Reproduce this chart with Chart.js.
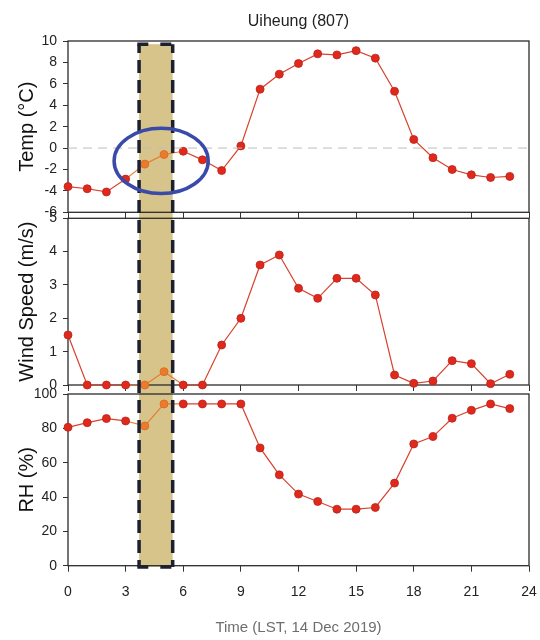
<!DOCTYPE html>
<html><head><meta charset="utf-8">
<script src="https://cdn.jsdelivr.net/npm/chart.js@4.4.1/dist/chart.umd.min.js"></script>
<style>
html,body{margin:0;padding:0;background:#fff;}
#wrap{position:relative;width:540px;height:640px;overflow:hidden;background:#fff;}
canvas{position:absolute;left:0;}
</style></head><body>
<div id="wrap">
<canvas id="cT" width="540" height="230" style="top:0px"></canvas>
<canvas id="cW" width="540" height="200" style="top:200px"></canvas>
<canvas id="cR" width="540" height="265" style="top:375px"></canvas>
</div>
<script>
// ---- data ----
const hours = [0,1,2,3,4,5,6,7,8,9,10,11,12,13,14,15,16,17,18,19,20,21,22,23];
const tempC = [-3.6,-3.8,-4.1,-2.9,-1.5,-0.6,-0.3,-1.1,-2.1,0.2,5.5,6.9,7.9,8.8,8.7,9.1,8.4,5.3,0.8,-0.9,-2.0,-2.5,-2.75,-2.65];
const windSpeed = [1.5,0,0,0,0,0.4,0,0,1.2,2.0,3.6,3.9,2.9,2.6,3.2,3.2,2.7,0.3,0.05,0.12,0.73,0.64,0.04,0.32];
const relHum = [80.6,83.3,85.7,84.3,81.4,94.2,94.2,94.2,94.2,94.2,68.6,52.9,41.7,37.4,32.9,32.9,33.9,48.1,70.9,75.2,85.9,90.5,94.2,91.5];
const xTickLabels = [0,3,6,9,12,15,18,21,24];
const tempTicks = [-6,-4,-2,0,2,4,6,8,10];
const windTicks = [0,1,2,3,4,5];
const rhTicks = [0,20,40,60,80,100];
const highlightHours = [4,5];
const shadeHours = [3.7,5.45];
const zeroLevel = 0;
const ellipseBounds = {h0:2.4, h1:7.3, t0:-4.25, t1:1.85};

// ---- styles ----
const RED = '#e0281c', RED_LINE = '#d8412d', ORANGE = '#ea7b2e';
const NARROW = "'Liberation Sans Narrow','Arial Narrow','Liberation Sans',Arial,sans-serif";
const SANS = "'Liberation Sans',Arial,sans-serif";
const TAN = '#d6c48b';

const shadePlugin = {
  id: 'shade',
  geom(chart, o) {
    const xs = chart.scales.x, ys = chart.scales.y;
    const xl = xs.getPixelForValue(shadeHours[0]), xr = xs.getPixelForValue(shadeHours[1]);
    let y0 = o.band[0] - o.offset, y1 = o.band[1] - o.offset;
    if (o.topValue !== undefined) y0 = ys.getPixelForValue(o.topValue);
    if (o.bottomValue !== undefined) y1 = ys.getPixelForValue(o.bottomValue);
    return {xl, xr, y0, y1};
  },
  beforeDraw(chart, args, o) {
    const g = this.geom(chart, o), ctx = chart.ctx;
    ctx.save();
    ctx.fillStyle = TAN;
    ctx.fillRect(g.xl, g.y0, g.xr - g.xl, g.y1 - g.y0);
    ctx.restore();
  },
  afterDatasetsDraw(chart, args, o) {
    const g = this.geom(chart, o), ctx = chart.ctx;
    ctx.save();
    ctx.strokeStyle = '#1c2030';
    ctx.lineWidth = 3.5;
    ctx.lineCap = 'butt';
    ctx.setLineDash([13, 7]);
    const startAbs = g.y0 + o.offset;
    ctx.lineDashOffset = ((startAbs % 20) + 20) % 20;
    [g.xl, g.xr].forEach(x => {
      ctx.beginPath(); ctx.moveTo(x, g.y0); ctx.lineTo(x, g.y1); ctx.stroke();
    });
    ctx.setLineDash([11, 12]);
    ctx.lineDashOffset = 0;
    if (o.topValue !== undefined) {
      ctx.beginPath(); ctx.moveTo(g.xl - 1.75, g.y0); ctx.lineTo(g.xr + 1.75, g.y0); ctx.stroke();
    }
    if (o.bottomValue !== undefined) {
      ctx.beginPath(); ctx.moveTo(g.xl - 1.75, g.y1); ctx.lineTo(g.xr + 1.75, g.y1); ctx.stroke();
    }
    ctx.restore();
  }
};

const framePlugin = {
  id: 'frame',
  beforeDatasetsDraw(chart) {
    const a = chart.chartArea, ctx = chart.ctx;
    ctx.save();
    ctx.strokeStyle = '#2b2b2b';
    ctx.lineWidth = 1.3;
    ctx.strokeRect(a.left, a.top, a.right - a.left, a.bottom - a.top);
    ctx.restore();
  }
};

const ellipsePlugin = {
  id: 'ellipse',
  afterDatasetsDraw(chart, args, o) {
    if (!o.show) return;
    const xs = chart.scales.x, ys = chart.scales.y, ctx = chart.ctx;
    const x0 = xs.getPixelForValue(ellipseBounds.h0), x1 = xs.getPixelForValue(ellipseBounds.h1);
    const y0 = ys.getPixelForValue(ellipseBounds.t1), y1 = ys.getPixelForValue(ellipseBounds.t0);
    ctx.save();
    ctx.strokeStyle = '#3a4aa8';
    ctx.lineWidth = 3.5;
    ctx.beginPath();
    ctx.ellipse((x0 + x1) / 2, (y0 + y1) / 2, (x1 - x0) / 2, (y1 - y0) / 2, 0, 0, Math.PI * 2);
    ctx.stroke();
    ctx.restore();
  }
};

function seriesDataset(values) {
  return {
    data: hours.map((h, i) => ({x: h, y: values[i]})),
    borderColor: RED_LINE,
    borderWidth: 1.2,
    pointRadius: 4,
    pointHoverRadius: 4,
    pointBorderWidth: 0.8,
    pointBackgroundColor: c => highlightHours.includes(hours[c.dataIndex]) ? ORANGE : RED,
    pointBorderColor: c => highlightHours.includes(hours[c.dataIndex]) ? '#d8691f' : '#b8241a',
    segment: {
      borderColor: c => (c.p0DataIndex >= 3 && c.p1DataIndex <= 6) ? ORANGE : RED_LINE
    },
    tension: 0,
    clip: false
  };
}

function makeChart(id, cfg) {
  const xAxis = {
    type: 'linear', min: xTickLabels[0], max: xTickLabels[xTickLabels.length - 1],
    position: 'bottom',
    afterBuildTicks: s => { s.ticks = xTickLabels.map(v => ({value: v})); },
    ticks: {display: cfg.showX, padding: 12, color: '#222', font: {family: NARROW, size: 14}},
    grid: {display: true, drawOnChartArea: false, drawTicks: true, tickLength: 6, color: '#333', lineWidth: 1},
    border: {display: false},
    title: cfg.showX ? {display: true, text: 'Time (LST, 14 Dec 2019)', color: '#6e6e6e',
      font: {family: NARROW, size: 15}, padding: {top: 0, bottom: 3}} : {display: false},
    afterFit: s => { s.height = cfg.xHeight; s.paddingLeft = 0; s.paddingRight = 0; }
  };
  const yAxis = {
    type: 'linear', min: cfg.ticks[0], max: cfg.ticks[cfg.ticks.length - 1],
    afterBuildTicks: s => { s.ticks = cfg.ticks.map(v => ({value: v})); },
    ticks: {padding: 6, color: '#222', font: {family: NARROW, size: 14}},
    grid: {display: true, drawOnChartArea: false, drawTicks: true, tickLength: 5, color: '#333'},
    border: {display: false},
    title: {display: true, text: cfg.title, color: '#111', font: {family: SANS, size: 20}, padding: {top: 15, bottom: 0}},
    afterFit: s => { s.width = 68; s.paddingTop = 0; s.paddingBottom = 0; }
  };
  return new Chart(document.getElementById(id), {
    type: 'line',
    data: {datasets: cfg.datasets},
    options: {
      responsive: false, animation: false, devicePixelRatio: 1,
      events: [],
      layout: {autoPadding: false, padding: {left: 0, right: 11, top: cfg.padTop, bottom: cfg.padBottom}},
      scales: {x: xAxis, y: yAxis},
      plugins: {
        legend: {display: false}, tooltip: {enabled: false},
        title: cfg.chartTitle ? {display: true, text: cfg.chartTitle, fullSize: false, color: '#222',
          font: {family: NARROW, size: 16, weight: 'normal'}, padding: {top: 12, bottom: 9.8}} : {display: false},
        shade: cfg.shade,
        ellipse: {show: !!cfg.ellipse}
      }
    },
    plugins: [shadePlugin, framePlugin, ellipsePlugin]
  });
}

makeChart('cT', {
  ticks: tempTicks, title: 'Temp (°C)', chartTitle: 'Uiheung (807)',
  showX: false, xHeight: 6, padTop: 0, padBottom: 11.7, ellipse: true,
  shade: {offset: 0, band: [0, 215], topValue: 9.7},
  datasets: [
    {data: [{x: xTickLabels[0], y: zeroLevel}, {x: xTickLabels[xTickLabels.length - 1], y: zeroLevel}],
     borderColor: '#bdbdbd', borderWidth: 1, borderDash: [9, 6], pointRadius: 0, clip: false},
    seriesDataset(tempC)
  ]
});
makeChart('cW', {
  ticks: windTicks, title: 'Wind Speed (m/s)',
  showX: false, xHeight: 6, padTop: 18.3, padBottom: 9,
  shade: {offset: 200, band: [215, 390]},
  datasets: [seriesDataset(windSpeed)]
});
makeChart('cR', {
  ticks: rhTicks, title: 'RH (%)',
  showX: true, xHeight: 74.3, padTop: 19, padBottom: 0,
  shade: {offset: 375, band: [390, 640], bottomValue: -0.7},
  datasets: [seriesDataset(relHum)]
});
</script>
</body></html>
